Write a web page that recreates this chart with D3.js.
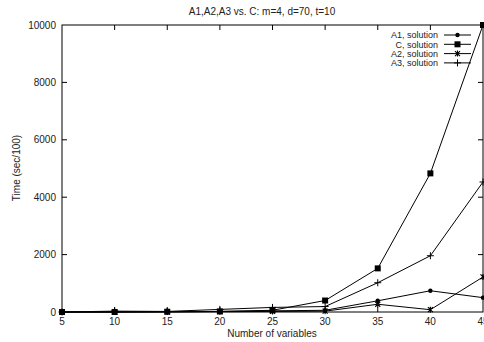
<!DOCTYPE html>
<html>
<head>
<meta charset="utf-8">
<script src="https://cdn.jsdelivr.net/npm/d3@7"></script>
<style>
  body { margin: 0; background: #fff; }
  svg { display: block; font-family: "Liberation Sans", Arial, sans-serif; }
</style>
</head>
<body>
<svg id="chart" width="484" height="342"></svg>
<script>
const vars = [5, 10, 15, 20, 25, 30, 35, 40, 45];
const a1 = [0, 0, 5, 20, 40, 60, 390, 740, 500];
const cSol = [0, 0, 10, 20, 60, 400, 1520, 4830, 10000];
const a2 = [0, 0, 5, 10, 20, 30, 270, 80, 1220];
const a3 = [0, 30, 20, 90, 160, 190, 1020, 1960, 4530];
const xTicks = [5, 10, 15, 20, 25, 30, 35, 40, 45];
const yTicks = [0, 2000, 4000, 6000, 8000, 10000];

const series = [
  { name: 'A1, solution', values: a1, marker: 'circle' },
  { name: 'C, solution', values: cSol, marker: 'square' },
  { name: 'A2, solution', values: a2, marker: 'star' },
  { name: 'A3, solution', values: a3, marker: 'plus' }
];

const margin = { top: 25, right: 1, bottom: 30, left: 62 };
const width = 484 - margin.left - margin.right;
const height = 342 - margin.top - margin.bottom;

const svg = d3.select('#chart');
const g = svg.append('g').attr('transform', `translate(${margin.left},${margin.top})`);

const x = d3.scaleLinear().domain([5, 45]).range([0, width]);
const y = d3.scaleLinear().domain([0, 10000]).range([height, 0]);

// border
g.append('rect')
  .attr('width', width).attr('height', height)
  .attr('fill', 'none').attr('stroke', '#000').attr('stroke-width', 1);

const tickLen = 5;
// mirrored inward ticks
g.append('g').selectAll('line').data(xTicks.slice(1, -1)).enter().append('line')
  .attr('x1', d => x(d)).attr('x2', d => x(d))
  .attr('y1', height).attr('y2', height - tickLen).attr('stroke', '#000');
g.append('g').selectAll('line').data(xTicks.slice(1, -1)).enter().append('line')
  .attr('x1', d => x(d)).attr('x2', d => x(d))
  .attr('y1', 0).attr('y2', tickLen).attr('stroke', '#000');
g.append('g').selectAll('line').data(yTicks.slice(1, -1)).enter().append('line')
  .attr('x1', 0).attr('x2', tickLen)
  .attr('y1', d => y(d)).attr('y2', d => y(d)).attr('stroke', '#000');
g.append('g').selectAll('line').data(yTicks.slice(1, -1)).enter().append('line')
  .attr('x1', width).attr('x2', width - tickLen)
  .attr('y1', d => y(d)).attr('y2', d => y(d)).attr('stroke', '#000');

// tick labels
g.append('g').selectAll('text').data(xTicks).enter().append('text')
  .attr('x', d => x(d)).attr('y', height + 13)
  .attr('text-anchor', 'middle').attr('font-size', 10).attr('fill', '#222')
  .text(d => d);
g.append('g').selectAll('text').data(yTicks).enter().append('text')
  .attr('x', -6).attr('y', d => y(d) + 3.5)
  .attr('text-anchor', 'end').attr('font-size', 10).attr('fill', '#222')
  .text(d => d);

// titles
svg.append('text').attr('x', 262).attr('y', 15)
  .attr('text-anchor', 'middle').attr('font-size', 10).attr('fill', '#222')
  .text('A1,A2,A3 vs. C: m=4, d=70, t=10');
svg.append('text').attr('x', 272).attr('y', 337)
  .attr('text-anchor', 'middle').attr('font-size', 10).attr('fill', '#222')
  .text('Number of variables');
svg.append('text')
  .attr('transform', 'translate(20,168) rotate(-90)')
  .attr('text-anchor', 'middle').attr('font-size', 10).attr('fill', '#222')
  .text('Time (sec/100)');

function drawMarker(sel, type) {
  if (type === 'circle') {
    sel.append('circle').attr('r', 2.2).attr('fill', '#000');
  } else if (type === 'square') {
    sel.append('rect').attr('x', -3).attr('y', -3).attr('width', 6).attr('height', 6).attr('fill', '#000');
  } else if (type === 'star') {
    sel.append('path').attr('d', 'M-2.5,-2.5L2.5,2.5M-2.5,2.5L2.5,-2.5M0,-3L0,3').attr('stroke', '#000').attr('stroke-width', 1.1);
  } else {
    sel.append('path').attr('d', 'M-3.5,0L3.5,0M0,-3.5L0,3.5').attr('stroke', '#000').attr('stroke-width', 1);
  }
}

const line = d3.line().x((d, i) => x(vars[i])).y(d => y(d));

series.forEach(s => {
  g.append('path').datum(s.values)
    .attr('d', line).attr('fill', 'none').attr('stroke', '#000').attr('stroke-width', 1);
  s.values.forEach((v, i) => {
    const m = g.append('g').attr('transform', `translate(${x(vars[i])},${y(v)})`);
    drawMarker(m, s.marker);
  });
});

// legend
const legend = svg.append('g');
series.forEach((s, i) => {
  const ly = 35 + i * 9.3;
  legend.append('text').attr('x', 438).attr('y', ly + 3.2)
    .attr('text-anchor', 'end').attr('font-size', 9).attr('fill', '#222')
    .text(s.name);
  legend.append('line').attr('x1', 444).attr('x2', 471)
    .attr('y1', ly).attr('y2', ly).attr('stroke', '#000');
  drawMarker(legend.append('g').attr('transform', `translate(457.5,${ly})`), s.marker);
});
</script>
</body>
</html>
